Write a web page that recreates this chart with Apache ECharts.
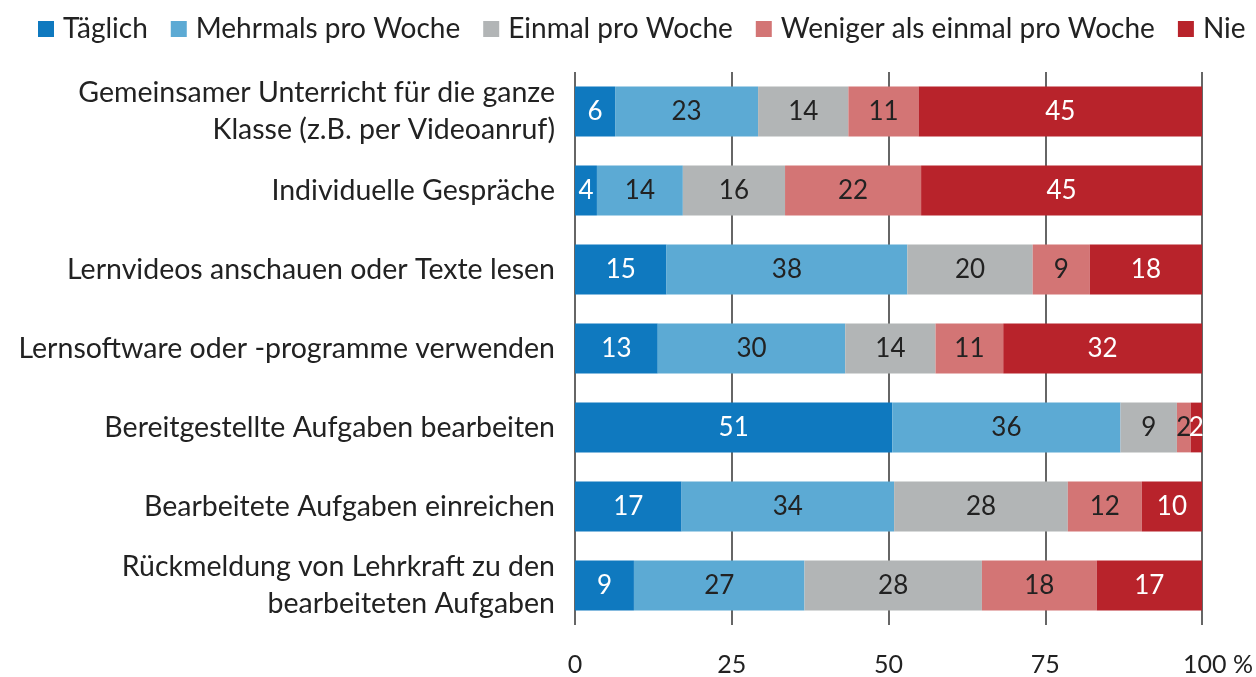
<!DOCTYPE html>
<html lang="de">
<head>
  <meta charset="UTF-8">
  <title>Lernaktivitäten</title>
  <style>
    html, body { margin: 0; padding: 0; background: #fff; }
    #chart { width: 1256px; height: 677px; }
  </style>
</head>
<body>
  <div id="chart"></div>
  <script src="https://cdn.jsdelivr.net/npm/echarts@6/dist/echarts.min.js"></script>
  <script>
  // Kategorien (von oben nach unten)
  let categories = [
    'Gemeinsamer Unterricht für die ganze\nKlasse (z.B. per Videoanruf)',
    'Individuelle Gespräche',
    'Lernvideos anschauen oder Texte lesen',
    'Lernsoftware oder -programme verwenden',
    'Bereitgestellte Aufgaben bearbeiten',
    'Bearbeitete Aufgaben einreichen',
    'Rückmeldung von Lehrkraft zu den\nbearbeiteten Aufgaben'
  ]
  let seriesNames = ['Täglich', 'Mehrmals pro Woche', 'Einmal pro Woche', 'Weniger als einmal pro Woche', 'Nie']
  // Anteile in %, aus der Balkenlänge geschätzt
  let taeglich = [6.4, 3.5, 14.6, 13.2, 50.6, 17.0, 9.4]
  let mehrmals = [22.8, 13.7, 38.4, 29.9, 36.4, 33.9, 27.2]
  let einmal = [14.4, 16.3, 20.0, 14.4, 9.0, 27.7, 28.3]
  let weniger = [11.2, 21.7, 9.1, 10.8, 2.2, 11.8, 18.3]
  let nie = [45.2, 44.8, 17.9, 31.7, 1.8, 9.6, 16.8]
  let xTicks = [0, 25, 50, 75, 100]

  let colors = ['#0f79bf', '#5caad4', '#b2b5b6', '#d37575', '#b8232b']
  let labelColors = ['#fff', '#222', '#222', '#222', '#fff']
  let values = [taeglich, mehrmals, einmal, weniger, nie]
  let font = 'Lato'

  let chart = echarts.init(document.getElementById('chart'))
  let series = seriesNames.map((name, i) => {
    return {
      name: name,
      type: 'bar',
      stack: 'all',
      barCategoryGap: '37%',
      data: values[i],
      itemStyle: { color: colors[i] },
      label: {
        show: true,
        position: 'inside',
        color: labelColors[i],
        fontFamily: font,
        fontSize: 26,
        formatter: p => Math.round(p.value)
      }
    }
  })

  chart.setOption({
    animation: false,
    textStyle: { fontFamily: font },
    color: colors,
    legend: {
      left: 33,
      top: 10,
      itemWidth: 16,
      itemHeight: 16,
      itemGap: 23,
      icon: 'rect',
      textStyle: { fontSize: 28, color: '#222', fontFamily: font, padding: [0, 0, 0, 4] }
    },
    grid: { left: 575, right: 54, top: 72, bottom: 49 },
    xAxis: {
      type: 'value',
      min: 0,
      max: 100,
      interval: 25,
      axisLine: { show: false },
      axisTick: { show: false },
      splitLine: { lineStyle: { color: '#333', width: 1.5 } },
      axisLabel: {
        margin: 27,
        fontSize: 25,
        color: '#222',
        fontFamily: font,
        formatter: v => v === xTicks[xTicks.length - 1] ? '{pad|}{n|' + v + ' %}' : String(v),
        rich: {
          pad: { width: 32 },
          n: { fontSize: 25, color: '#222', fontFamily: font }
        }
      }
    },
    yAxis: {
      type: 'category',
      inverse: true,
      data: categories,
      axisLine: { show: false },
      axisTick: { show: false },
      axisLabel: {
        margin: 20,
        fontSize: 28.5,
        lineHeight: 37,
        color: '#222',
        align: 'right',
        fontFamily: font
      }
    },
    series: series
  })
  </script>
</body>
</html>
